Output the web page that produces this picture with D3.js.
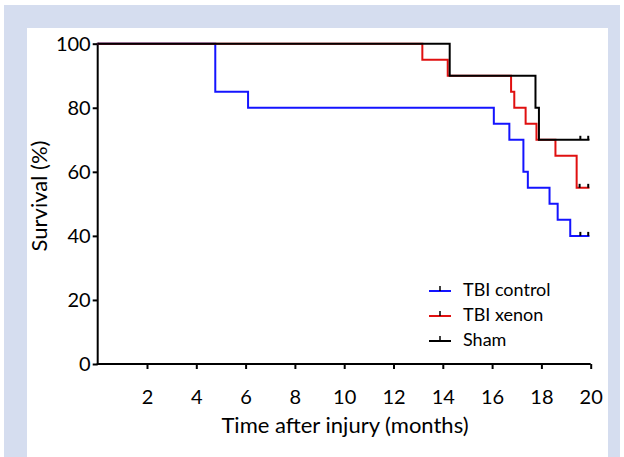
<!DOCTYPE html>
<html>
<head>
<meta charset="utf-8">
<script src="https://cdn.jsdelivr.net/npm/d3@7"></script>
<style>
    body { margin: 0; background: #fff; }
    svg { display: block; font-family: Lato, "Open Sans", sans-serif; }
</style>
</head>
<body>
<div id="chart"></div>
<script>
// Kaplan-Meier step data (months, % survival)
let seriesNames = ['TBI control', 'TBI xenon', 'Sham'];
let seriesColors = ['#1414ff', '#e01010', '#000000'];

let controlTime = [0, 4.77, 6.1, 16.07, 16.7, 17.27, 17.45, 18.33, 18.66, 19.17, 19.95];
let controlSurv = [100, 85, 80, 75, 70, 60, 55, 50, 45, 40, 40];
let xenonTime = [0, 13.17, 14.2, 16.77, 16.9, 17.36, 17.8, 18.57, 19.43, 19.95];
let xenonSurv = [100, 95, 90, 85, 80, 75, 70, 65, 55, 55];
let shamTime = [0, 14.28, 17.76, 17.9, 19.95];
let shamSurv = [100, 90, 80, 70, 70];

// censored marks
let controlCens = [19.58, 19.9];
let xenonCens = [19.55, 19.9];
let shamCens = [19.58, 19.9];

let xTicks = [2, 4, 6, 8, 10, 12, 14, 16, 18, 20];
let yTicks = [0, 20, 40, 60, 80, 100];

let W = 624, H = 457;
let svg = d3.select('#chart').append('svg').attr('width', W).attr('height', H);

//背景框
svg.append('rect').attr('x', 4).attr('y', 5).attr('width', 616).attr('height', H - 5).attr('fill', '#d5ddef');
svg.append('rect').attr('x', 27).attr('y', 28).attr('width', 581).attr('height', H - 28).attr('fill', '#ffffff');

let xScale = d3.scaleLinear().domain([0, 20]).range([97.7, 590.7]);
let yScale = d3.scaleLinear().domain([0, 100]).range([364, 43.7]);

let series = [
    {time: controlTime, surv: controlSurv, cens: controlCens},
    {time: xenonTime, surv: xenonSurv, cens: xenonCens},
    {time: shamTime, surv: shamSurv, cens: shamCens}
];

//axes
let xAxis = svg.append('g')
    .attr('transform', 'translate(0,' + yScale(0) + ')')
    .call(d3.axisBottom(xScale).tickValues(xTicks).tickSize(5).tickPadding(21).tickSizeOuter(0));
let yAxis = svg.append('g')
    .attr('transform', 'translate(' + xScale(0) + ',0)')
    .call(d3.axisLeft(yScale).tickValues(yTicks).tickSize(5).tickPadding(2).tickSizeOuter(0));

[xAxis, yAxis].forEach(function (a) {
    a.select('.domain').attr('stroke', '#000').attr('stroke-width', 2);
    a.selectAll('.tick line').attr('stroke', '#000').attr('stroke-width', 2);
    a.selectAll('.tick text').attr('fill', '#000').style('font-size', '20px').style('font-family', 'Lato, sans-serif');
});
// extend the x axis line to the y axis
xAxis.select('.domain').attr('d', 'M' + (xScale(0) - 1) + ',0H' + xScale(20));
yAxis.select('.domain').attr('d', 'M0,' + (yScale(0) + 1) + 'V' + (yScale(100) - 1));

svg.append('text')
    .attr('x', 345).attr('y', 433)
    .attr('text-anchor', 'middle')
    .style('font-size', '22px')
    .text('Time after injury (months)');
svg.append('text')
    .attr('transform', 'translate(41,196) rotate(-90)')
    .attr('text-anchor', 'middle').attr('dominant-baseline', 'middle')
    .style('font-size', '22px')
    .text('Survival (%)');

//survival curves, drawn back to front
let line = d3.line().curve(d3.curveStepAfter)
    .x(function (d) { return xScale(d[0]); })
    .y(function (d) { return yScale(d[1]); });

[0, 1, 2].forEach(function (i) {
    let s = series[i];
    let pts = s.time.map(function (t, j) { return [t, s.surv[j]]; });
    svg.append('path')
        .attr('d', line(pts))
        .attr('fill', 'none')
        .attr('stroke', seriesColors[i])
        .attr('stroke-width', 2);
    let last = s.surv[s.surv.length - 1];
    svg.selectAll(null).data(s.cens).enter().append('line')
        .attr('x1', function (d) { return xScale(d); })
        .attr('x2', function (d) { return xScale(d); })
        .attr('y1', yScale(last))
        .attr('y2', yScale(last) - 4)
        .attr('stroke', '#000')
        .attr('stroke-width', 2);
});

//legend
let legend = svg.append('g');
let legendY = [291, 316, 341];
seriesNames.forEach(function (name, i) {
    let g = legend.append('g').attr('transform', 'translate(0,' + legendY[i] + ')');
    g.append('line').attr('x1', 429).attr('x2', 451).attr('y1', 0).attr('y2', 0)
        .attr('stroke', seriesColors[i]).attr('stroke-width', 2);
    g.append('line').attr('x1', 440).attr('x2', 440).attr('y1', 0).attr('y2', -5)
        .attr('stroke', '#000').attr('stroke-width', 1.5);
    g.append('text').attr('x', 463).attr('y', 0)
        .attr('dominant-baseline', 'middle')
        .style('font-size', '18px')
        .text(name);
});
</script>
</body>
</html>
